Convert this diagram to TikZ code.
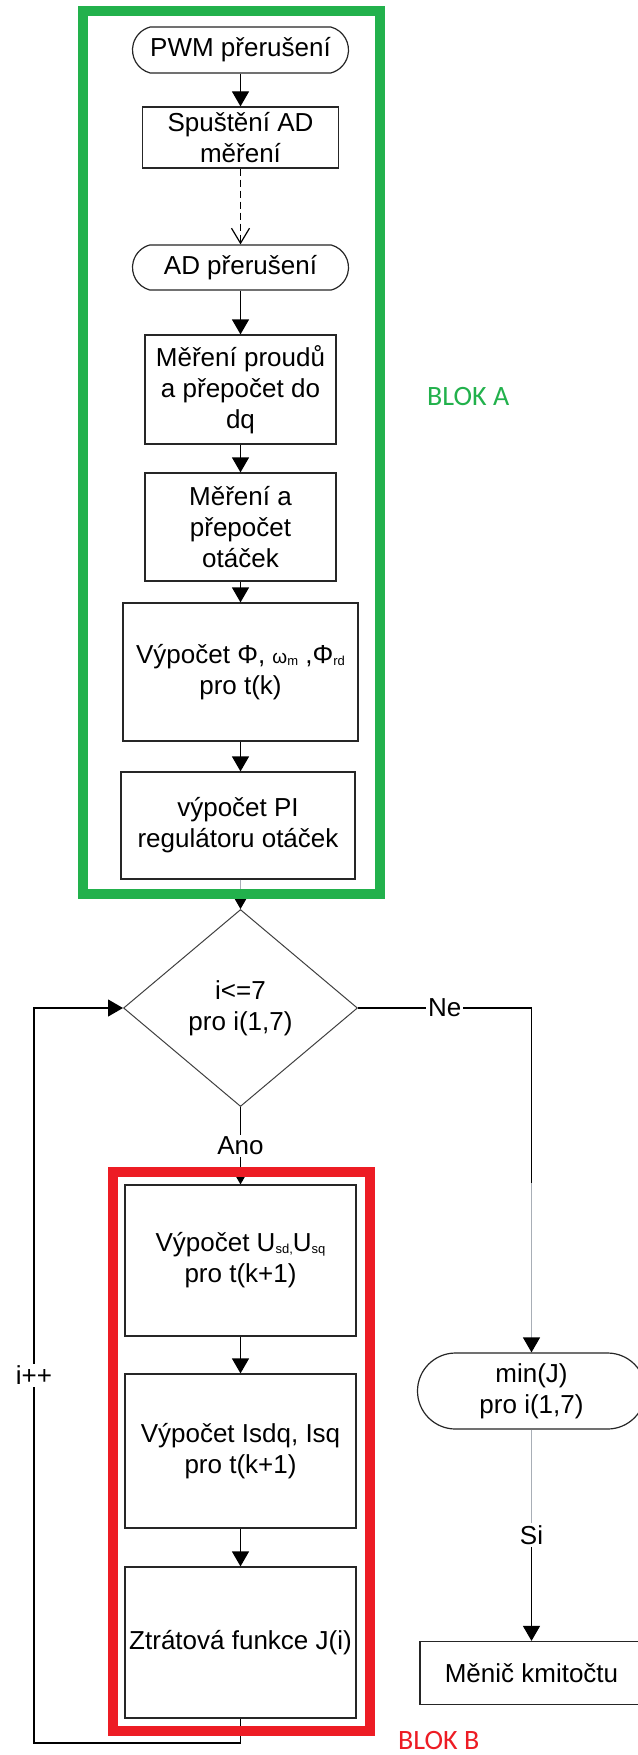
\documentclass[tikz,border=0pt]{standalone}
\usepackage{fontspec}
\setmainfont{Liberation Sans}
\newfontfamily\blokfont{Carlito}
\usetikzlibrary{arrows.meta,shapes.geometric,shapes.misc}
\definecolor{pgreen}{RGB}{34,177,76}
\definecolor{pred}{RGB}{237,28,36}
\definecolor{lgray}{RGB}{168,174,182}
\newcommand\sbx[1]{\raisebox{-2pt}{\fontsize{13}{13}\selectfont #1}}
\newcommand\smw[1]{{\fontsize{19}{19}\selectfont #1}}
\tikzset{
  proc/.style={draw=black!85, line width=1.2pt, rectangle, inner sep=0pt, align=center},
  term/.style={draw=black!85, line width=1.2pt, rounded rectangle, rounded rectangle arc length=150, inner sep=0pt, align=center},
  decis/.style={draw=black!75, line width=1pt, diamond, inner sep=0pt, align=center},
  flow/.style={line width=1.2pt, -{Triangle[length=15pt,width=17pt]}},
  dflow/.style={line width=1.2pt, dash pattern=on 7pt off 4pt, -{Straight Barb[length=15pt,width=18pt]}},
  gflow/.style={line width=1.2pt, draw=lgray, -{Triangle[length=15pt,width=17pt,color=black,fill=black]}},
  gline/.style={line width=1.2pt, draw=lgray},
  plainline/.style={line width=1.2pt},
  lbl/.style={fill=white, inner sep=2pt},
  frameA/.style={draw=pgreen, line width=10pt},
  frameB/.style={draw=pred, line width=10pt},
}
\begin{document}
\begin{tikzpicture}[x=1pt, y=-1pt, font=\fontsize{26}{31}\selectfont]
\useasboundingbox (0,0) rectangle (637,1755);
\fill[white] (0,0) rectangle (637,1755);

% block A
\node[term, minimum width=216pt, minimum height=46pt] (pwm) at (240.5,50) {PWM přerušení};
\node[proc, minimum width=196pt, minimum height=61pt] (spust) at (240.5,137.5) {Spuštění AD\\měření};
\node[term, minimum width=216pt, minimum height=45pt] (ad) at (240.5,267.5) {AD přerušení};
\node[proc, minimum width=191pt, minimum height=109pt] (mer1) at (240.5,389.5) {Měření proudů\\a přepočet do\\dq};
\node[proc, minimum width=191pt, minimum height=108pt] (mer2) at (240.5,527) {Měření a\\přepočet\\otáček};
\node[proc, minimum width=235pt, minimum height=138pt] (vyp) at (240.5,672) {Výpočet Φ, \smw{ω}\sbx{m} ,Φ\sbx{rd}\\pro t(k)};
\node[proc, minimum width=234pt, minimum height=107pt] (pi) at (238,825.5) {výpočet PI\\regulátoru otáček};

% decision
\node[decis, minimum width=234pt, minimum height=197pt] (dia) at (240.5,1008) {i<=7\\pro i(1,7)};

% block B
\node[proc, minimum width=231pt, minimum height=151pt] (usd) at (240.5,1260.5) {Výpočet U\sbx{sd,}U\sbx{sq}\\pro t(k+1)};
\node[proc, minimum width=231pt, minimum height=154pt] (isd) at (240.5,1451) {Výpočet Isdq, Isq\\pro t(k+1)};
\node[proc, minimum width=231pt, minimum height=151pt] (ztr) at (240.5,1642.5) {Ztrátová funkce J(i)};

% right branch
\node[term, rounded rectangle arc length=180, minimum width=228pt, minimum height=76pt] (minj) at (531.5,1391) {min(J)\\pro i(1,7)};
\node[proc, minimum width=223pt, minimum height=63pt] (menic) at (531.5,1673) {Měnič kmitočtu};

% connectors
\draw[flow] (pwm.south) -- (spust.north);
\draw[dflow] (spust.south) -- (ad.north);
\draw[flow] (ad.south) -- (mer1.north);
\draw[flow] (mer1.south) -- (mer2.north);
\draw[flow] (mer2.south) -- (vyp.north);
\draw[flow] (vyp.south) -- (vyp.south |- pi.north);
\draw[gflow] (vyp.south |- pi.south) -- (dia.north);
\draw[flow] (dia.south) -- node[lbl] (ano) {Ano} (usd.north);
\draw[flow] (usd.south) -- (isd.north);
\draw[flow] (isd.south) -- (ztr.north);

\coordinate (nebend) at (531.5,1008);
\coordinate (negray) at (531.5,1183);
\draw[plainline] (dia.east) -- node[lbl] (ne) {Ne} (nebend) -- (negray);
\draw[gflow] (negray) -- (minj.north);

\node[lbl] (si) at (531.5,1535) {Si};
\draw[gline] (minj.south) -- (si.north);
\draw[flow] (si.south) -- (menic.north);

\coordinate (loopb) at (34,1743);
\draw[flow] (ztr.south) |- (loopb) -- node[lbl] (inc) {i++} (loopb |- dia.west) -- (dia.west);

% frames
\draw[frameA] (83,11.5) rectangle (380,894);
\draw[frameB] (113,1172) rectangle (369.5,1731);

\node[anchor=west, inner sep=0pt, text=pgreen, font=\blokfont\fontsize{28}{30}\selectfont] (bloka) at (427,397) {BLOK A};
\node[anchor=west, inner sep=0pt, text=pred, font=\blokfont\fontsize{28}{30}\selectfont] (blokb) at (398,1740) {BLOK B};
\end{tikzpicture}
\end{document}
